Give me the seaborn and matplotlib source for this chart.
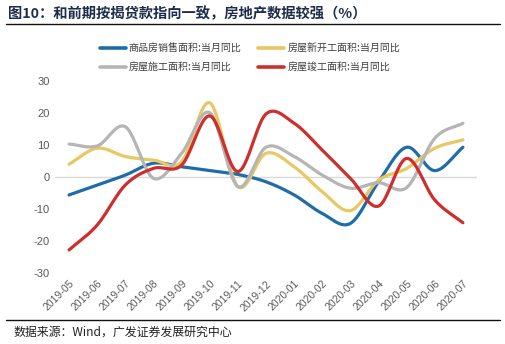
import numpy as np
import pandas as pd
import matplotlib
matplotlib.use("Agg")
import matplotlib.pyplot as plt
import seaborn as sns

months = ["2019-05", "2019-06", "2019-07", "2019-08", "2019-09", "2019-10", "2019-11",
          "2019-12", "2020-01", "2020-02", "2020-03", "2020-04", "2020-05", "2020-06", "2020-07"]

sales_area = [-5.6, -2.5, 0.6, 4.3, 3.2, 2.0, 0.8, -1.5, -5.6, -11.4, -14.5, -1.5, 9.3, 2.0, 9.3]
new_starts = [4.0, 9.0, 6.4, 5.3, 4.8, 23.2, -3.0, 7.4, 3.2, -4.6, -10.5, -1.0, 2.7, 9.0, 11.6]
under_construction = [10.3, 9.7, 15.7, -0.4, 7.4, 20.1, -3.0, 9.3, 6.4, 0.6, -3.5, -1.8, -3.3, 12.1, 16.8]
completions = [-22.8, -15.0, -2.5, 2.7, 3.7, 19.1, 1.7, 19.7, 16.8, 8.4, -0.4, -9.1, 5.8, -7.2, -14.3]

series_names = ["商品房销售面积:当月同比", "房屋新开工面积:当月同比",
                "房屋施工面积:当月同比", "房屋竣工面积:当月同比"]
series_values = [sales_area, new_starts, under_construction, completions]
colors = ["#1F6DA8", "#E8C862", "#B5B5B5", "#CF2E2E"]

yticks = [30, 20, 10, 0, -10, -20, -30]


def smooth(y, steps=24):
    """Catmull-Rom curve through every monthly value."""
    y = np.asarray(y, dtype=float)
    x = np.arange(len(y), dtype=float)
    px = np.concatenate([[2 * x[0] - x[1]], x, [2 * x[-1] - x[-2]]])
    py = np.concatenate([[2 * y[0] - y[1]], y, [2 * y[-1] - y[-2]]])
    xs, ys = [], []
    t = np.linspace(0, 1, steps, endpoint=False)
    for i in range(1, len(px) - 2):
        p0, p1, p2, p3 = py[i - 1], py[i], py[i + 1], py[i + 2]
        q0, q1, q2, q3 = px[i - 1], px[i], px[i + 1], px[i + 2]
        ys.append(0.5 * ((2 * p1) + (-p0 + p2) * t + (2 * p0 - 5 * p1 + 4 * p2 - p3) * t ** 2
                         + (-p0 + 3 * p1 - 3 * p2 + p3) * t ** 3))
        xs.append(0.5 * ((2 * q1) + (-q0 + q2) * t + (2 * q0 - 5 * q1 + 4 * q2 - q3) * t ** 2
                         + (-q0 + 3 * q1 - 3 * q2 + q3) * t ** 3))
    xs.append([x[-1]])
    ys.append([y[-1]])
    return np.concatenate(xs), np.concatenate(ys)


frames = []
for name, vals in zip(series_names, series_values):
    sx, sy = smooth(vals)
    frames.append(pd.DataFrame({"x": sx, "value": sy, "series": name}))
df = pd.concat(frames, ignore_index=True)

sns.set_theme(style="white")
plt.rcParams["font.family"] = ["Noto Sans CJK SC", "DejaVu Sans"]

fig = plt.figure(figsize=(5.05, 3.44), dpi=100)
ax = fig.add_axes([55 / 505, 1 - 273 / 344, 422 / 505, 192 / 344])

ax.axhline(0, color="#D9D9D9", lw=1.0, zorder=1)
sns.lineplot(data=df, x="x", y="value", hue="series", hue_order=series_names,
             palette=colors, linewidth=2.3, sort=False, estimator=None, ax=ax, legend=False,
             zorder=3)

ax.set_xlim(-0.5, len(months) - 0.5)
ax.set_ylim(-30, 30)
ax.set_yticks(yticks)
ax.set_yticklabels([str(v) for v in yticks], color="#595959", fontsize=8,
                   family=["Liberation Sans", "DejaVu Sans"])
ax.set_xticks(range(len(months)))
ax.set_xticklabels(months, rotation=45, ha="right", rotation_mode="anchor",
                   color="#595959", fontsize=7.5, family=["Liberation Sans", "DejaVu Sans"])
ax.tick_params(axis="both", length=0, pad=4)
ax.set_xlabel("")
ax.set_ylabel("")
for s in ax.spines.values():
    s.set_visible(False)

# legend in two rows, filled row by row
handles = [plt.Line2D([], [], color=c, lw=2.6) for c in colors]
order = [0, 2, 1, 3]
fig.legend([handles[i] for i in order], [series_names[i] for i in order],
           loc="center", bbox_to_anchor=(0.495, 1 - 58 / 344),
           ncol=2, frameon=False, fontsize=7.2, handlelength=2.6, handletextpad=0.3,
           columnspacing=1.7, labelspacing=0.9, labelcolor="#404040")

# title and source
fig.text(8 / 505, 1 - 14 / 344, "图10：和前期按揭贷款指向一致，房地产数据较强（%）",
         fontsize=10.3, fontweight="bold", color="#1F2D4A", va="center", ha="left")
fig.add_artist(plt.Line2D([6 / 505, 500 / 505], [1 - 24 / 344, 1 - 24 / 344],
                          color="#111111", lw=1.0))
fig.add_artist(plt.Line2D([6 / 505, 500 / 505], [1 - 320 / 344, 1 - 320 / 344],
                          color="#111111", lw=1.0))
fig.text(14 / 505, 1 - 332 / 344, "数据来源：Wind，广发证券发展研究中心",
         fontsize=8.6, color="#222222", va="center", ha="left")

fig.savefig("out.png", dpi=100)
